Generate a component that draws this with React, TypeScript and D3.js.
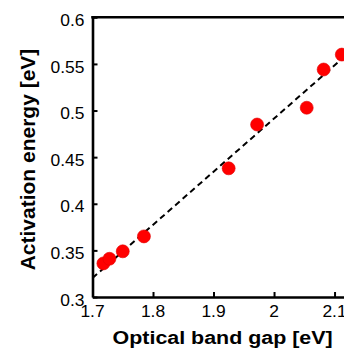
import React, { useEffect, useRef } from 'react';
import * as d3 from 'd3';

const bandGap = [1.718, 1.728, 1.75, 1.785, 1.925, 1.972, 2.054, 2.082, 2.112];
const activationEnergy = [0.336, 0.341, 0.349, 0.365, 0.438, 0.485, 0.503, 0.544, 0.56];
const fitBandGap = [1.7, 2.13];
const fitEnergy = [0.3204, 0.5655];
const xTicks = [1.7, 1.8, 1.9, 2, 2.1];
const xTickLabels = ['1.7', '1.8', '1.9', '2', '2.1'];
const yTicks = [0.3, 0.35, 0.4, 0.45, 0.5, 0.55, 0.6];
const yTickLabels = ['0.3', '0.35', '0.4', '0.45', '0.5', '0.55', '0.6'];

const App: React.FC = () => {
  const chartRef = useRef<SVGSVGElement | null>(null);

  useEffect(() => {
    const width = 344;
    const height = 351;
    const left = 92.5;
    const right = 352.7;
    const top = 17.3;
    const bottom = 297;
    const font = '"Liberation Sans", Arial, Helvetica, sans-serif';

    const svg = d3.select(chartRef.current);
    svg.selectAll('*').remove();
    svg.attr('width', width).attr('height', height);

    svg.append('rect').attr('width', width).attr('height', height).attr('fill', 'white');

    const x = d3.scaleLinear().domain([1.7, 2.13]).range([left, right]);
    const y = d3.scaleLinear().domain([0.3, 0.6]).range([bottom, top]);

    svg.append('clipPath').attr('id', 'plot-clip')
      .append('rect')
      .attr('x', left).attr('y', top)
      .attr('width', right - left).attr('height', bottom - top);

    // fit line
    const line = d3.line<number>()
      .x(d => x(d))
      .y((d, i) => y(fitEnergy[i]));
    svg.append('path')
      .attr('d', line(fitBandGap))
      .attr('clip-path', 'url(#plot-clip)')
      .attr('fill', 'none')
      .attr('stroke', 'black')
      .attr('stroke-width', 2)
      .attr('stroke-dasharray', '6,4');

    // points
    svg.selectAll('.dot')
      .data(bandGap)
      .enter().append('circle')
      .attr('class', 'dot')
      .attr('cx', d => x(d))
      .attr('cy', (d, i) => y(activationEnergy[i]))
      .attr('r', 6.5)
      .attr('fill', '#ff0000')
      .attr('stroke', '#e00000')
      .attr('stroke-width', 0.6);

    // axes (inward ticks, MATLAB style)
    const xAxis = svg.append('g')
      .attr('transform', `translate(0,${bottom})`)
      .call(d3.axisBottom(x).tickValues(xTicks).tickSizeInner(-5).tickSizeOuter(0).tickFormat(() => ''));
    const yAxis = svg.append('g')
      .attr('transform', `translate(${left},0)`)
      .call(d3.axisLeft(y).tickValues(yTicks).tickSizeInner(-5).tickSizeOuter(0).tickFormat(() => ''));
    [xAxis, yAxis].forEach(a => {
      a.select('.domain').attr('stroke', 'black').attr('stroke-width', 2.6);
      a.selectAll('.tick line').attr('stroke', 'black').attr('stroke-width', 2);
    });

    // top box edge
    svg.append('line')
      .attr('x1', left - 1.3).attr('x2', right)
      .attr('y1', top).attr('y2', top)
      .attr('stroke', 'black')
      .attr('stroke-width', 2.6);

    // tick labels
    xTicks.forEach((t, i) => {
      svg.append('text')
        .attr('transform', `translate(${x(t)},316.7) scale(1.09,1)`)
        .attr('text-anchor', 'middle')
        .style('font-family', font)
        .style('font-size', '16px')
        .style('fill', 'black')
        .text(xTickLabels[i]);
    });
    yTicks.forEach((t, i) => {
      svg.append('text')
        .attr('transform', `translate(${left - 8},${y(t) + 8.7}) scale(1.09,1)`)
        .attr('text-anchor', 'end')
        .style('font-family', font)
        .style('font-size', '16px')
        .style('fill', 'black')
        .text(yTickLabels[i]);
    });

    // axis titles
    svg.append('text')
      .attr('transform', `translate(${(left + right) / 2},343.5) scale(1.19,1)`)
      .attr('text-anchor', 'middle')
      .style('font-family', font)
      .style('font-size', '18px')
      .style('font-weight', 'bold')
      .style('fill', 'black')
      .text('Optical band gap [eV]');

    svg.append('text')
      .attr('transform', `translate(34.5,${(44 + 275) / 2}) rotate(-90)`)
      .attr('text-anchor', 'middle')
      .style('font-family', font)
      .style('font-size', '21px')
      .style('font-weight', 'bold')
      .style('fill', 'black')
      .text('Activation energy [eV]');
  }, []);

  return (
    <svg ref={chartRef} style={{ position: 'absolute', left: 0, top: 0 }}></svg>
  );
};

export default App;
